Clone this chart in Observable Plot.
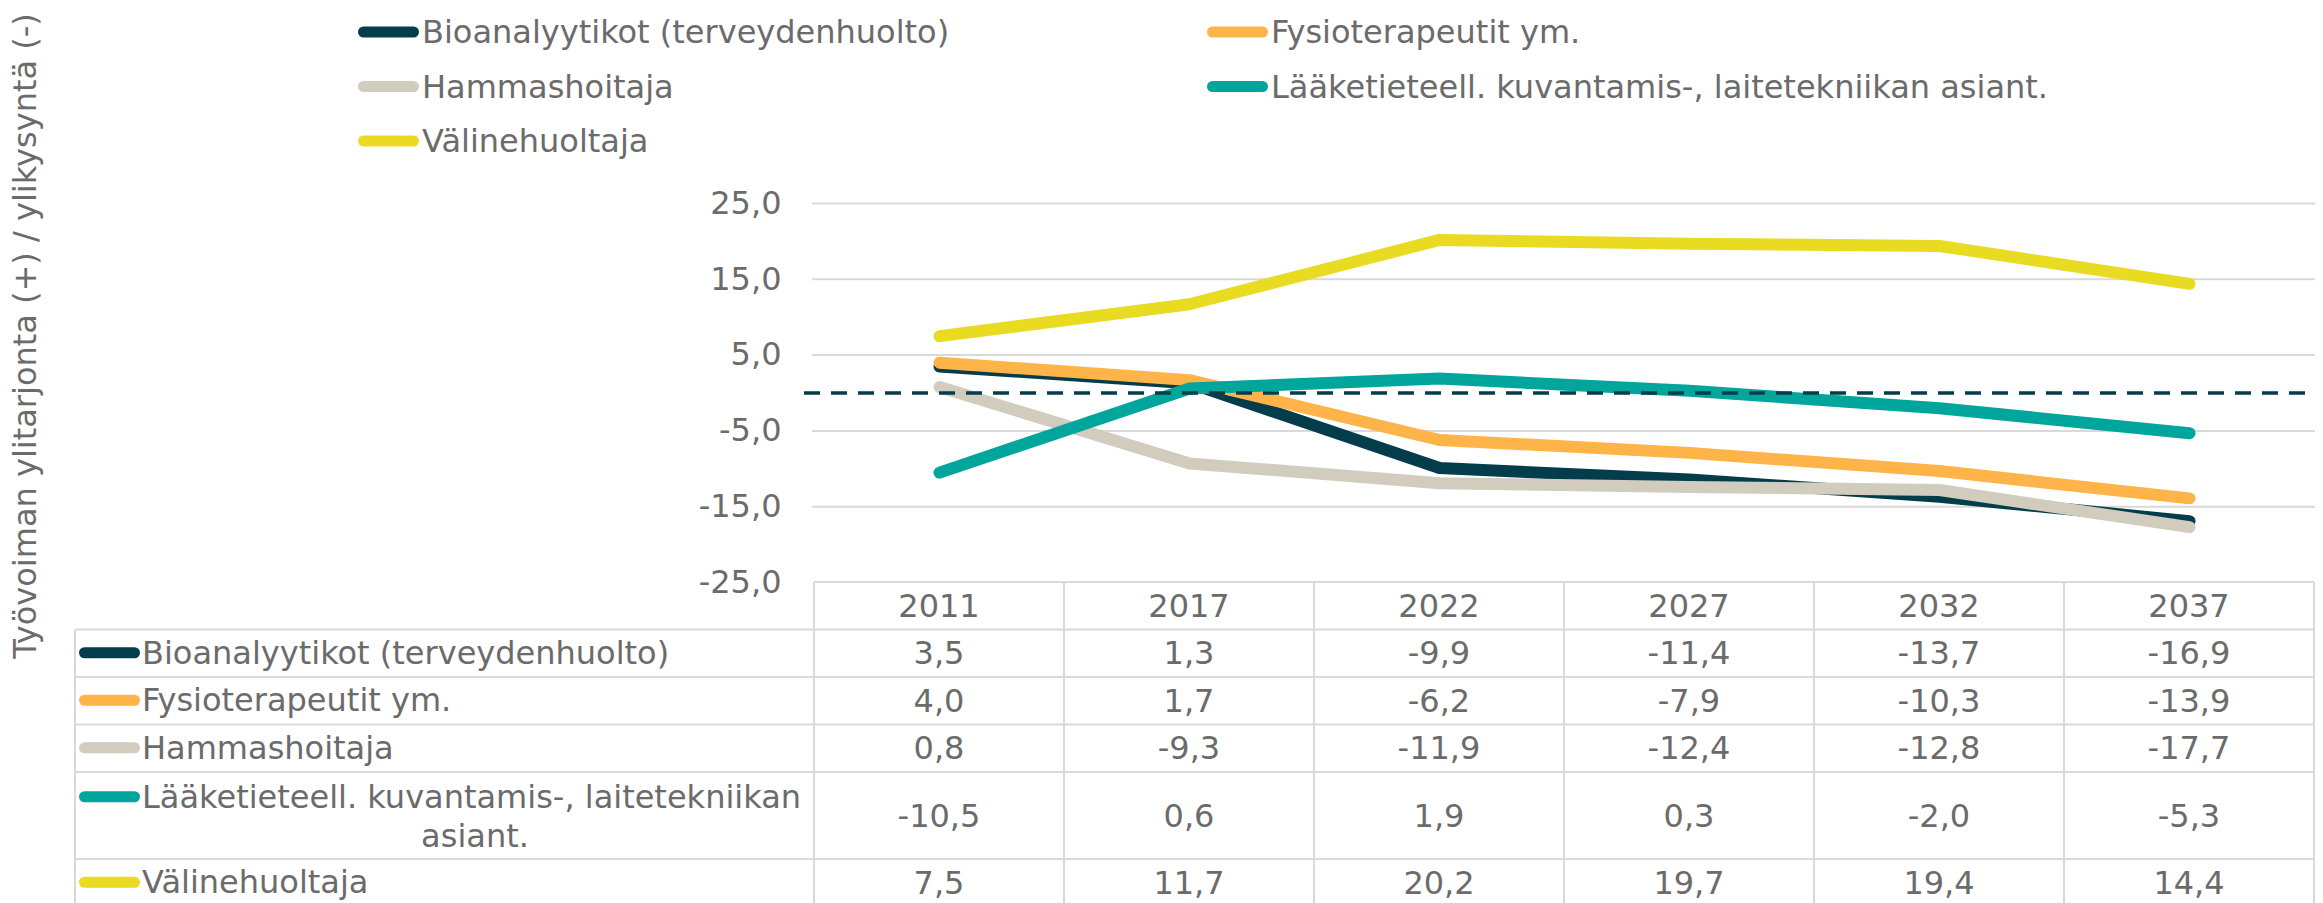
<!DOCTYPE html>
<html>
<head>
<meta charset="utf-8">
<script src="https://cdn.jsdelivr.net/npm/d3@7"></script>
<script src="https://cdn.jsdelivr.net/npm/@observablehq/plot@0.6"></script>
<style>
  html, body { margin: 0; padding: 0; background: #ffffff; }
  #chart svg { display: block; }
</style>
</head>
<body>
<div id="chart"></div>
<script>
// ---- data ----
const years = ["2011", "2017", "2022", "2027", "2032", "2037"];
const seriesNames = [
  "Bioanalyytikot (terveydenhuolto)",
  "Fysioterapeutit ym.",
  "Hammashoitaja",
  "Lääketieteell. kuvantamis-, laitetekniikan asiant.",
  "Välinehuoltaja"
];
const tableLabelLines = [
  ["Bioanalyytikot (terveydenhuolto)"],
  ["Fysioterapeutit ym."],
  ["Hammashoitaja"],
  ["Lääketieteell. kuvantamis-, laitetekniikan", "asiant."],
  ["Välinehuoltaja"]
];
const seriesColors = ["#033d4b", "#ffb44a", "#d2ccbf", "#00a69c", "#e9da22"];
const bioanalyytikot = [3.5, 1.3, -9.9, -11.4, -13.7, -16.9];
const fysioterapeutit = [4.0, 1.7, -6.2, -7.9, -10.3, -13.9];
const hammashoitaja = [0.8, -9.3, -11.9, -12.4, -12.8, -17.7];
const laaketieteell = [-10.5, 0.6, 1.9, 0.3, -2.0, -5.3];
const valinehuoltaja = [7.5, 11.7, 20.2, 19.7, 19.4, 14.4];
const seriesValues = [bioanalyytikot, fysioterapeutit, hammashoitaja, laaketieteell, valinehuoltaja];
const yTicks = [-25, -15, -5, 5, 15, 25];
const gridTicks = [-15, -5, 5, 15, 25];
const yTitle = "Työvoiman ylitarjonta (+) / ylikysyntä (-)";

const fmt = d => d.toFixed(1).replace(".", ",");
const textColor = "#6b6b6b";
const gridColor = "#d9d9d9";
const font = "'DejaVu Sans', Verdana, sans-serif";
const fontSize = 32;

const data = seriesNames.flatMap((s, i) =>
  seriesValues[i].map((v, j) => ({series: s, year: years[j], value: v}))
);

const plot = Plot.plot({
  width: 2323,
  height: 903,
  marginLeft: 812,
  marginRight: 8,
  marginTop: 203,
  marginBottom: 321,
  style: {fontFamily: font, fontSize: fontSize + "px", color: textColor, background: "#ffffff", overflow: "visible"},
  x: {type: "point", domain: years, padding: 0.5, axis: null},
  y: {domain: [-25, 25], ticks: yTicks, tickFormat: fmt, tickSize: 0, tickPadding: 31, label: null},
  color: {domain: seriesNames, range: seriesColors},
  marks: [
    Plot.ruleY(gridTicks, {stroke: gridColor, strokeWidth: 2}),
    Plot.line(data, {x: "year", y: "value", z: "series", stroke: "series", strokeWidth: 12, strokeLinecap: "round", strokeLinejoin: "round"}),
    Plot.ruleY([0], {stroke: "#033d4b", strokeWidth: 3.5, strokeDasharray: "16,11", insetLeft: -8})
  ]
});
document.getElementById("chart").appendChild(plot);

// ---- extra layout: legend, table, y title (positions from Plot scales) ----
const svg = d3.select(plot);
const xs = plot.scale("x"), ys = plot.scale("y");
const X = v => xs.apply(v), Y = v => ys.apply(v);
const step = X(years[1]) - X(years[0]);
const colLeft = X(years[0]) - step / 2;
const colRight = X(years[years.length - 1]) + step / 2;

// y title
svg.append("text")
  .attr("transform", "translate(25,336) rotate(-90)")
  .attr("text-anchor", "middle")
  .attr("dominant-baseline", "central")
  .attr("fill", textColor)
  .style("font-size", fontSize + "px")
  .text(yTitle);

// legend
const legendCols = [358, 1207];
const legendRowY = 32, legendRowStep = 54.5;
const lg = svg.append("g");
seriesNames.forEach((s, i) => {
  const cx = legendCols[i % 2];
  const cy = legendRowY + Math.floor(i / 2) * legendRowStep;
  lg.append("line").attr("x1", cx + 5.5).attr("x2", cx + 55.5).attr("y1", cy).attr("y2", cy)
    .attr("stroke", seriesColors[i]).attr("stroke-width", 11).attr("stroke-linecap", "round");
  lg.append("text").attr("x", cx + 64).attr("y", cy).attr("dominant-baseline", "central")
    .attr("text-anchor", "start").attr("fill", textColor).text(s);
});

// data table
const tableTop = Y(-25);
const labelLeft = 75;
const rowH = 47.5, extraLineH = 39.5;
const tg = svg.append("g");
const rowTops = [];
let yy = tableTop + rowH;
tableLabelLines.forEach(lines => { rowTops.push(yy); yy += rowH + (lines.length - 1) * extraLineH; });
const tableBottom = yy;

// grid lines of table
tg.append("line").attr("x1", colLeft).attr("x2", colRight).attr("y1", tableTop).attr("y2", tableTop)
  .attr("stroke", gridColor).attr("stroke-width", 2);
[...rowTops, tableBottom].forEach(t => {
  tg.append("line").attr("x1", labelLeft).attr("x2", colRight).attr("y1", t).attr("y2", t)
    .attr("stroke", gridColor).attr("stroke-width", 2);
});
for (let k = 0; k <= years.length; k++) {
  const xx = colLeft + k * step;
  tg.append("line").attr("x1", xx).attr("x2", xx).attr("y1", tableTop).attr("y2", tableBottom)
    .attr("stroke", gridColor).attr("stroke-width", 2);
}
tg.append("line").attr("x1", labelLeft).attr("x2", labelLeft).attr("y1", rowTops[0]).attr("y2", tableBottom)
  .attr("stroke", gridColor).attr("stroke-width", 2);

// header
years.forEach(yr => {
  tg.append("text").attr("x", X(yr)).attr("y", tableTop + rowH / 2)
    .attr("text-anchor", "middle").attr("dominant-baseline", "central").attr("fill", textColor).text(yr);
});

// rows
tableLabelLines.forEach((lines, i) => {
  const top = rowTops[i];
  const h = rowH + (lines.length - 1) * extraLineH;
  const firstY = top + rowH / 2 - 0.5 + (lines.length > 1 ? 1.5 : 0);
  tg.append("line").attr("x1", labelLeft + 9.5).attr("x2", labelLeft + 59.5).attr("y1", firstY).attr("y2", firstY)
    .attr("stroke", seriesColors[i]).attr("stroke-width", 11).attr("stroke-linecap", "round");
  tg.append("text").attr("x", labelLeft + 67).attr("y", firstY).attr("dominant-baseline", "central")
    .attr("text-anchor", "start").attr("fill", textColor).text(lines[0]);
  lines.slice(1).forEach((ln, k) => {
    tg.append("text").attr("x", 475).attr("y", firstY + (k + 1) * extraLineH)
      .attr("text-anchor", "middle").attr("dominant-baseline", "central").attr("fill", textColor).text(ln);
  });
  seriesValues[i].forEach((v, j) => {
    tg.append("text").attr("x", X(years[j])).attr("y", top + h / 2)
      .attr("text-anchor", "middle").attr("dominant-baseline", "central").attr("fill", textColor).text(fmt(v));
  });
});
</script>
</body>
</html>
